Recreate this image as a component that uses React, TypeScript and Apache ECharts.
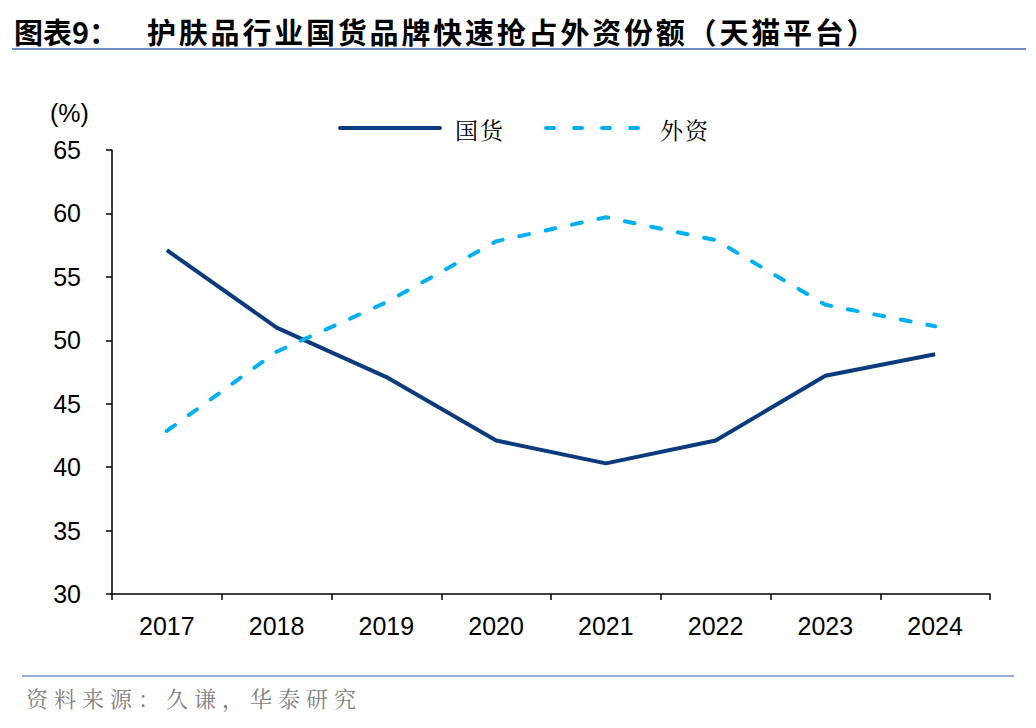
import React, { useEffect, useRef } from "react";
import * as echarts from "echarts";

const years = ["2017", "2018", "2019", "2020", "2021", "2022", "2023", "2024"];
const domestic = [57.1, 51.0, 47.1, 42.1, 40.3, 42.1, 47.2, 48.9];
const foreign = [42.85, 49.1, 53.0, 57.8, 59.7, 57.9, 52.8, 51.1];
const seriesNames = ["国货", "外资"];
const titlePrefix = "图表9：";
const titleText = "护肤品行业国货品牌快速抢占外资份额（天猫平台）";
const sourceText = "资料来源：久谦，华泰研究";

const navy = "#0b3b7e";
const sky = "#00b0f0";
const CJK = "Noto Sans CJK SC";
const SERIF_CJK = "Noto Serif CJK SC, Noto Sans CJK SC";

function spacedText(text: string, x0: number, pitch: number, y: number, style: any) {
  return Array.from(text).map((ch, i) => ({
    type: "text",
    x: x0 + i * pitch,
    y,
    style: { text: ch, verticalAlign: "middle", ...style },
  }));
}

export default function App() {
  const ref = useRef<HTMLDivElement>(null);
  useEffect(() => {
    const chart = echarts.init(ref.current!, null, { renderer: "svg" });
    const axisFont = { color: "#000", fontSize: 25, fontFamily: "Liberation Sans, Arial" };
    chart.setOption({
      animation: false,
      backgroundColor: "#ffffff",
      grid: { left: 112, right: 46, top: 150, bottom: 134, containLabel: false },
      legend: { show: false },
      xAxis: {
        type: "category",
        data: years,
        boundaryGap: true,
        axisLine: { lineStyle: { color: "#000", width: 1.5 } },
        axisTick: { show: true, length: 6, lineStyle: { color: "#000", width: 1.5 } },
        axisLabel: { ...axisFont, margin: 19 },
      },
      yAxis: {
        type: "value",
        min: 30,
        max: 65,
        interval: 5,
        name: "(%)",
        nameLocation: "end",
        nameGap: 25,
        nameTextStyle: { ...axisFont, align: "left", padding: [0, 0, 0, -62] },
        axisLine: { show: true, lineStyle: { color: "#000", width: 1.5 } },
        axisTick: { show: true, length: 6, lineStyle: { color: "#000", width: 1.5 } },
        splitLine: { show: false },
        axisLabel: { ...axisFont, margin: 31 },
      },
      series: [
        {
          name: seriesNames[0],
          type: "line",
          data: domestic,
          symbol: "none",
          lineStyle: { color: navy, width: 4 },
          itemStyle: { color: navy },
        },
        {
          name: seriesNames[1],
          type: "line",
          data: foreign,
          symbol: "none",
          lineStyle: { color: sky, width: 4, type: [10, 17], cap: "round" },
          itemStyle: { color: sky },
        },
      ],
      graphic: [
        {
          type: "text",
          x: 14,
          y: 31,
          style: { text: titlePrefix, fontSize: 29, fontWeight: "bold", fontFamily: CJK, fill: "#000", verticalAlign: "middle" },
        },
        ...spacedText(titleText, 147, 31.8, 31, { fontSize: 29, fontWeight: "bold", fontFamily: CJK, fill: "#000" }),
        { type: "line", shape: { x1: 12, y1: 49, x2: 1026, y2: 49 }, style: { stroke: "#6f8fc0", lineWidth: 2 } },
        { type: "line", shape: { x1: 22, y1: 676, x2: 1014, y2: 676 }, style: { stroke: "#6f8fc0", lineWidth: 1.5 } },
        ...spacedText(sourceText, 26, 28, 697, { fontSize: 22, fontFamily: SERIF_CJK, fill: "#7f7f7f" }),
        // legend
        { type: "line", shape: { x1: 340, y1: 128, x2: 440, y2: 128 }, style: { stroke: navy, lineWidth: 4, lineCap: "round" } },
        ...spacedText(seriesNames[0], 455, 25, 129, { fontSize: 23, fontFamily: SERIF_CJK, fill: "#000" }),
        {
          type: "line",
          shape: { x1: 546, y1: 128, x2: 641, y2: 128 },
          style: { stroke: sky, lineWidth: 4, lineCap: "round", lineDash: [8, 20] },
        },
        ...spacedText(seriesNames[1], 660, 25, 129, { fontSize: 23, fontFamily: SERIF_CJK, fill: "#000" }),
      ],
    });
    return () => chart.dispose();
  }, []);
  return <div ref={ref} style={{ position: "fixed", left: 0, top: 0, width: 1036, height: 728, background: "#fff" }} />;
}
